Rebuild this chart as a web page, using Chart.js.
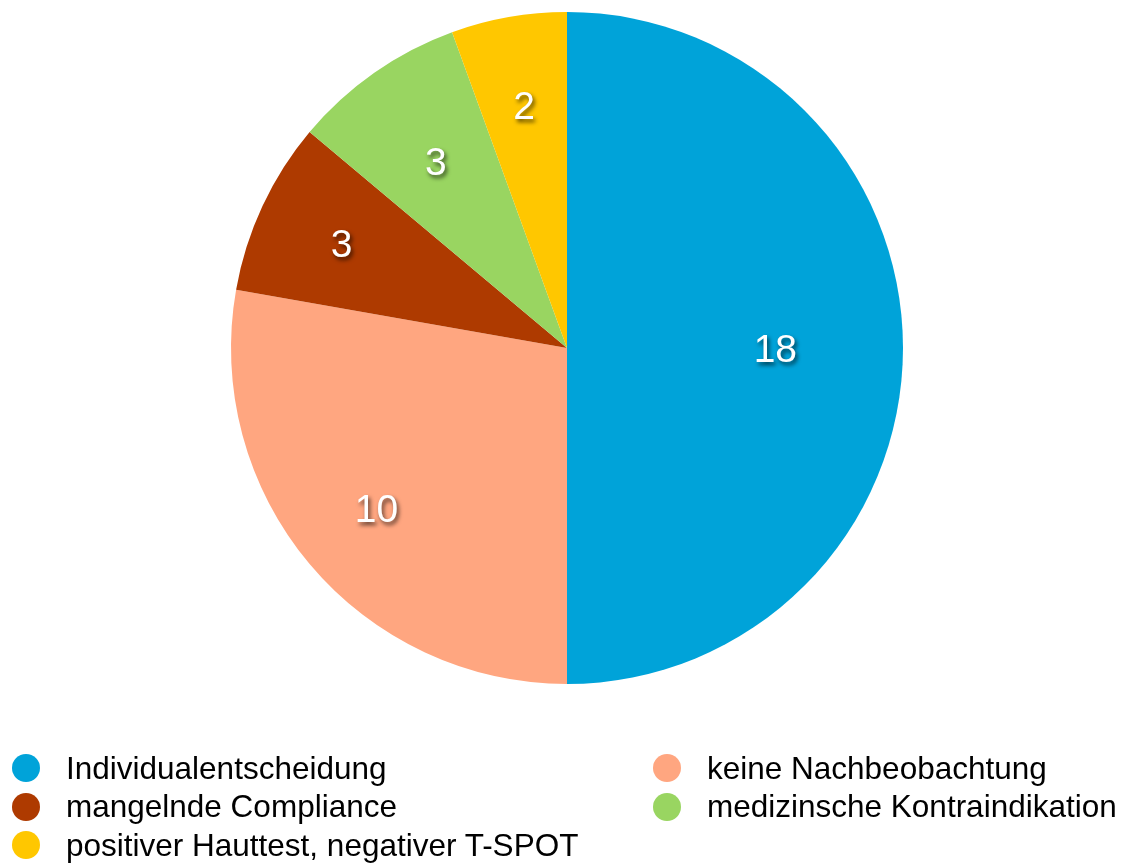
<!DOCTYPE html>
<html>
<head>
<meta charset="utf-8">
<script src="https://cdn.jsdelivr.net/npm/chart.js@4/dist/chart.umd.min.js"></script>
<style>
	html, body { margin: 0; padding: 0; background: #fff; }
	#wrap { position: relative; width: 1130px; height: 864px; }
	#legend {
		position: absolute; left: 12px; top: 749px;
		display: grid; grid-template-columns: 641px 477px;
		font-family: "Liberation Sans", Arial, sans-serif; font-size: 31.5px; color: #000;
	}
	.item { display: flex; align-items: center; height: 38.5px; white-space: nowrap; }
	.dot { width: 28px; height: 28px; border-radius: 50%; margin-right: 26px; flex: none; }
</style>
</head>
<body>
<div id="wrap">
	<canvas id="chart" width="1130" height="864"></canvas>
	<div id="legend"></div>
</div>
<script>
const labels = ['Individualentscheidung', 'keine Nachbeobachtung', 'mangelnde Compliance', 'medizinsche Kontraindikation', 'positiver Hauttest, negativer T-SPOT'];
const values = [18, 10, 3, 3, 2];
const colors = ['#00A3D9', '#FFA680', '#AE3A00', '#99D561', '#FFC700'];

// radius factor where each value label sits
const labelRadius = [0.62, 0.74, 0.74, 0.68, 0.735];

const sliceLabels = {
	id: 'sliceLabels',
	afterDatasetsDraw(chart) {
		const ctx = chart.ctx;
		const meta = chart.getDatasetMeta(0);
		ctx.save();
		ctx.font = '39px "Liberation Sans", Arial, sans-serif';
		ctx.textAlign = 'center';
		ctx.textBaseline = 'middle';
		ctx.fillStyle = '#fff';
		ctx.shadowColor = 'rgba(0,0,0,0.65)';
		ctx.shadowBlur = 4;
		ctx.shadowOffsetX = 2;
		ctx.shadowOffsetY = 3;
		meta.data.forEach((arc, i) => {
			const p = arc.getProps(['x', 'y', 'startAngle', 'endAngle', 'outerRadius'], true);
			const mid = (p.startAngle + p.endAngle) / 2;
			const r = p.outerRadius * labelRadius[i];
			ctx.fillText(String(values[i]), p.x + Math.cos(mid) * r, p.y + Math.sin(mid) * r + 3);
		});
		ctx.restore();
	}
};

const chart = new Chart(document.getElementById('chart'), {
	type: 'pie',
	data: {
		labels,
		datasets: [{ data: values, backgroundColor: colors, borderWidth: 0 }]
	},
	options: {
		responsive: false,
		animation: false,
		layout: { padding: { top: 12, bottom: 180, left: 4, right: 0 } },
		plugins: { legend: { display: false }, tooltip: { enabled: false } }
	},
	plugins: [sliceLabels]
});

const legend = document.getElementById('legend');
labels.forEach((l, i) => {
	const item = document.createElement('div');
	item.className = 'item';
	item.innerHTML = `<span class="dot" style="background:${colors[i]}"></span><span>${l}</span>`;
	legend.appendChild(item);
});
</script>
</body>
</html>
